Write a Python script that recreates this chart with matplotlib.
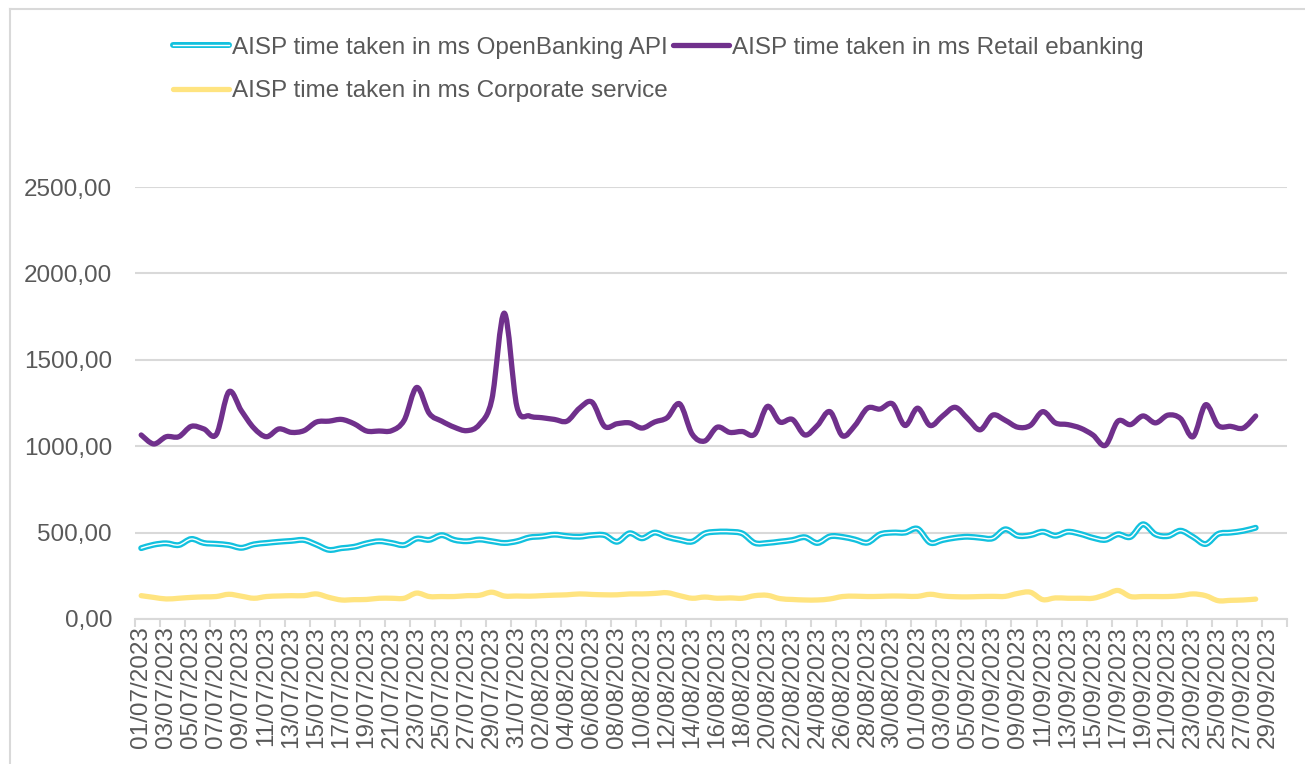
import numpy as np
import matplotlib.pyplot as plt
from matplotlib.path import Path
from matplotlib.patches import PathPatch
from matplotlib.lines import Line2D
from matplotlib.legend_handler import HandlerTuple
import pandas as pd

plt.rcParams['font.family'] = ['Liberation Sans', 'DejaVu Sans']

# categories: 01/07/2023 .. 30/09/2023, data up to 28/09
dates = pd.date_range('2023-07-01', '2023-09-30', freq='D')
date_labels = [d.strftime('%d/%m/%Y') for d in dates]

openbanking = [410, 430, 438, 428, 463, 440, 435, 428, 412, 432,
               440, 447, 452, 457, 430, 400, 410, 418, 438, 450,
               440, 428, 465, 458, 485, 458, 450, 460, 450, 440,
               450, 472, 478, 488, 480, 476, 485, 485, 447, 496,
               467, 500, 475, 458, 448, 495, 505, 505, 495, 440,
               440, 448, 457, 473, 440, 478, 475, 460, 442, 490,
               500, 500, 522, 442, 457, 470, 476, 470, 467, 519,
               482, 485, 505, 482, 505, 492, 470, 458, 490, 475,
               548, 490, 480, 511, 475, 434, 492, 500, 510, 528]

retail = [1065, 1013, 1055, 1055, 1115, 1100, 1068, 1315, 1205, 1105,
          1055, 1100, 1080, 1090, 1140, 1145, 1155, 1130, 1088, 1088,
          1090, 1150, 1340, 1190, 1145, 1110, 1090, 1125, 1270, 1770,
          1230, 1175, 1165, 1155, 1145, 1220, 1255, 1115, 1130, 1135,
          1105, 1140, 1165, 1245, 1070, 1030, 1110, 1080, 1085, 1070,
          1230, 1140, 1155, 1065, 1120, 1200, 1060, 1120, 1220, 1215,
          1245, 1120, 1220, 1120, 1175, 1225, 1160, 1095, 1180, 1150,
          1110, 1120, 1200, 1135, 1125, 1105, 1065, 1005, 1145, 1125,
          1175, 1135, 1180, 1160, 1055, 1240, 1120, 1115, 1105, 1175]

corporate = [135, 125, 116, 120, 125, 128, 130, 143, 132, 120,
             130, 133, 135, 135, 145, 125, 110, 112, 113, 120,
             120, 120, 150, 130, 130, 130, 135, 137, 155, 133,
             133, 132, 135, 138, 140, 145, 142, 140, 140, 145,
             145, 148, 152, 135, 120, 127, 120, 122, 120, 135,
             137, 118, 113, 110, 110, 116, 130, 132, 130, 131,
             133, 132, 131, 143, 133, 129, 128, 130, 131, 131,
             148, 155, 112, 122, 120, 120, 120, 140, 165, 130,
             130, 130, 130, 135, 145, 135, 106, 108, 110, 115]

labels = ['AISP time taken in ms OpenBanking API',
          'AISP time taken in ms Retail ebanking',
          'AISP time taken in ms Corporate service']

c_ob = '#12C1DE'
c_retail = '#70308C'
c_corp = '#FFE480'
c_text = '#595959'
c_grid = '#D9D9D9'
fs = 17.5


def smooth_path(y):
    # smoothed line through the data points (cubic bezier segments)
    x = np.arange(len(y), dtype=float)
    y = np.asarray(y, dtype=float)
    pts = np.column_stack([x, y])
    verts = [pts[0]]
    codes = [Path.MOVETO]
    t = 1 / 6
    for i in range(len(pts) - 1):
        p0 = pts[i - 1] if i > 0 else pts[i]
        p1, p2 = pts[i], pts[i + 1]
        p3 = pts[i + 2] if i + 2 < len(pts) else pts[i + 1]
        verts += [p1 + (p2 - p0) * t, p2 - (p3 - p1) * t, p2]
        codes += [Path.CURVE4] * 3
    return Path(verts, codes)


fig = plt.figure(figsize=(13.05, 7.64), dpi=100)
ax = fig.add_axes([0.1034, 0.1898, 0.8828, 0.5654])

ax.add_patch(PathPatch(smooth_path(openbanking), fill=False, edgecolor=c_ob,
                       lw=4.3, capstyle='round', joinstyle='round', zorder=3))
ax.add_patch(PathPatch(smooth_path(openbanking), fill=False, edgecolor='white',
                       lw=1.0, capstyle='round', joinstyle='round', zorder=4))
ax.add_patch(PathPatch(smooth_path(retail), fill=False, edgecolor=c_retail,
                       lw=3.8, capstyle='round', joinstyle='round', zorder=3))
ax.add_patch(PathPatch(smooth_path(corporate), fill=False, edgecolor=c_corp,
                       lw=3.8, capstyle='round', joinstyle='round', zorder=3))

n = len(dates)
ax.set_xlim(-0.5, n - 0.5)
ax.set_ylim(0, 2500)
ax.set_yticks(np.arange(0, 2501, 500))
ax.set_yticklabels([f'{v:.2f}'.replace('.', ',') for v in range(0, 2501, 500)])
ax.yaxis.grid(True, color=c_grid, lw=1.5)
ax.set_axisbelow(True)

ax.set_xticks(np.arange(0, n, 2))
ax.set_xticklabels(date_labels[::2], rotation=90)
ax.set_xticks(np.arange(-0.5, n, 2), minor=True)
ax.tick_params(axis='x', which='major', length=0, pad=5, labelsize=fs,
               labelcolor=c_text)
ax.tick_params(axis='x', which='minor', length=6, width=1.5, color=c_grid)
ax.tick_params(axis='y', length=0, pad=16.5, labelsize=fs, labelcolor=c_text)

for s in ['top', 'right', 'left']:
    ax.spines[s].set_visible(False)
ax.spines['bottom'].set_color(c_grid)
ax.spines['bottom'].set_linewidth(1.5)

h_ob = (Line2D([], [], color=c_ob, lw=4.3, solid_capstyle='round'),
        Line2D([], [], color='white', lw=1.0))
h_retail = Line2D([], [], color=c_retail, lw=3.8, solid_capstyle='round')
h_corp = Line2D([], [], color=c_corp, lw=3.8, solid_capstyle='round')

fig.legend([h_ob, h_corp, h_retail], [labels[0], labels[2], labels[1]],
           ncol=2, loc='upper left', bbox_to_anchor=(0.116, 0.9805),
           frameon=False, fontsize=fs, labelcolor=c_text,
           handlelength=2.3, handletextpad=0.12, columnspacing=0.2,
           labelspacing=0.88, handler_map={tuple: HandlerTuple(ndivide=1)})

# chart area border
fig.add_artist(Line2D([10 / 1305, 10 / 1305], [0, 1 - 9 / 764],
                      transform=fig.transFigure, color=c_grid, lw=1.5))
fig.add_artist(Line2D([10 / 1305, 1], [1 - 9 / 764, 1 - 9 / 764],
                      transform=fig.transFigure, color=c_grid, lw=1.5))

fig.savefig('out.png', dpi=100)
